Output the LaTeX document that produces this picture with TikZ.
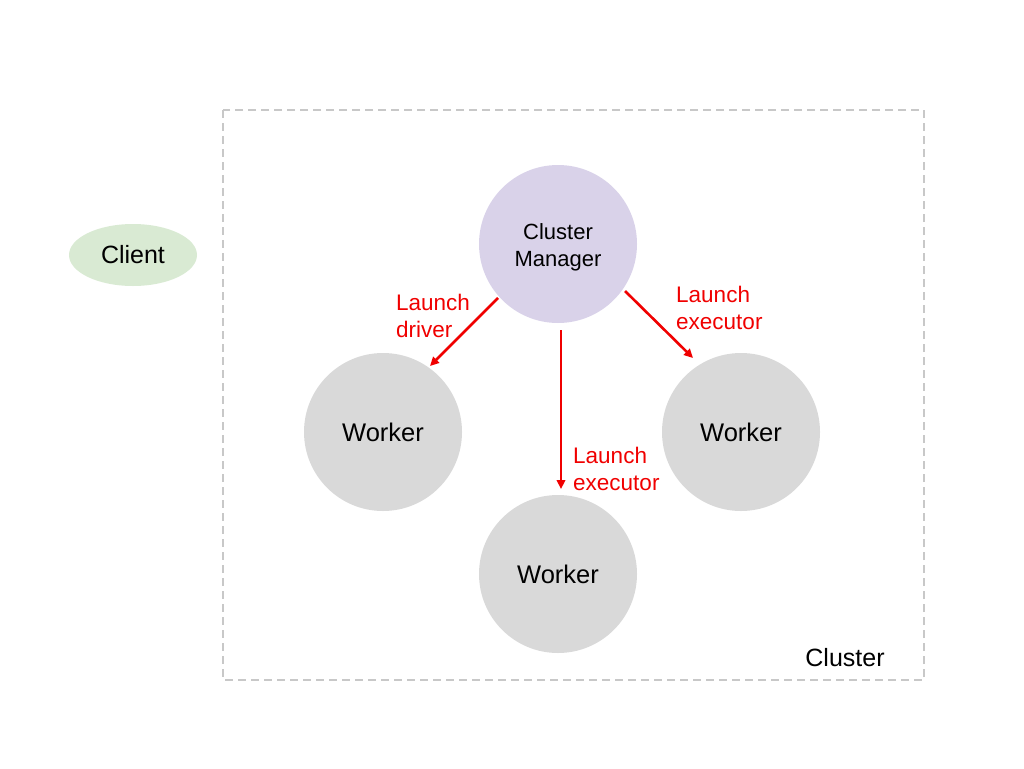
\documentclass[tikz,border=0pt]{standalone}
\usepackage{fontspec}
\setmainfont{Liberation Sans}
\usetikzlibrary{arrows.meta,shapes.geometric}
\definecolor{mgrfill}{HTML}{D9D2E9}
\definecolor{wkfill}{HTML}{D9D9D9}
\definecolor{clfill}{HTML}{D9EAD3}
\definecolor{boxline}{HTML}{C8C8C8}
\definecolor{arrred}{HTML}{F00000}
\tikzset{
  circnode/.style={circle, minimum size=158pt, inner sep=0pt, align=center},
  worker/.style={circnode, fill=wkfill, font=\fontsize{25.5}{30}\selectfont},
  manager/.style={circnode, fill=mgrfill, font=\fontsize{22}{27}\selectfont},
  client/.style={ellipse, fill=clfill, minimum width=128pt, minimum height=62pt, inner sep=0pt, font=\fontsize{25}{30}\selectfont},
  redlabel/.style={text=arrred, align=left, anchor=west, inner sep=0pt, font=\fontsize{22.5}{27}\selectfont},
  launch/.style={draw=arrred, line width=2.6pt, -{Triangle[length=9pt,width=8.5pt]}},
  clusterbox/.style={draw=boxline, line width=1.4pt, dash pattern=on 8pt off 5pt},
}
\begin{document}
\begin{tikzpicture}[x=1pt,y=-1pt]
\useasboundingbox (0,0) rectangle (1024,768);
\draw[clusterbox] (223,110) rectangle (924,680);
\node[client] (client) at (133,255) {Client};
\node[manager] (mgr) at (558,244) {};
\node[manager, fill=none] (mgrtext) at (558,247) {Cluster\\Manager};
\node[worker] (wl) at (383,432) {Worker};
\node[worker] (wr) at (741,432) {Worker};
\node[worker] (wb) at (558,574) {Worker};
\node[font=\fontsize{25}{30}\selectfont] (cl) at (845,658) {Cluster};
\coordinate (s1) at (498,298);
\coordinate (e1) at (430,366);
\coordinate (s2) at (561,330);
\coordinate (e2) at (561,489);
\coordinate (s3) at (625,291);
\coordinate (e3) at (693,358);
\draw[launch] (s1) -- (e1);
\draw[launch] (s2) -- (e2);
\draw[launch] (s3) -- (e3);
\node[redlabel] (l1) at (396,316) {Launch\\driver};
\node[redlabel] (l2) at (573,469) {Launch\\executor};
\node[redlabel] (l3) at (676,308) {Launch\\executor};
\end{tikzpicture}
\end{document}
